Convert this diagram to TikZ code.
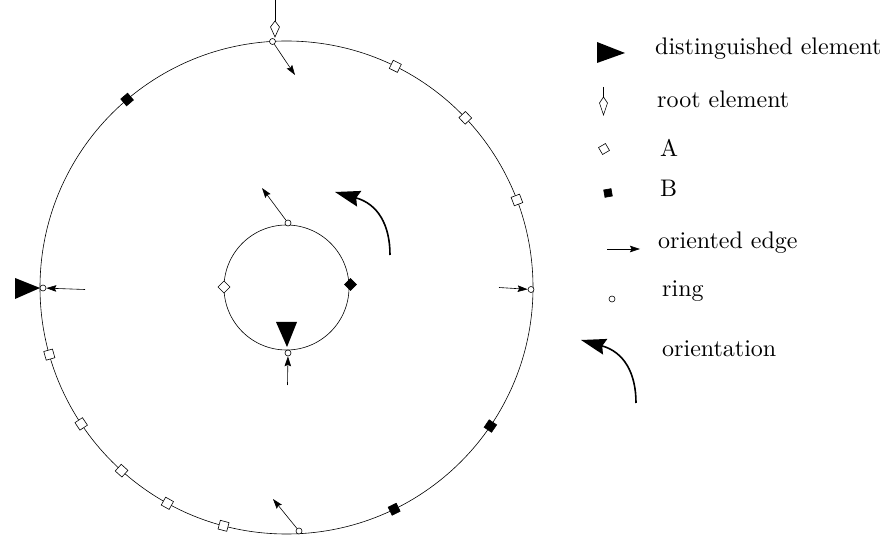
\documentclass[tikz,border=0pt]{standalone}
\usepackage{fontspec}
\newfontfamily\legfont{lmroman10-regular.otf}
\usetikzlibrary{arrows.meta}
\begin{document}
\begin{tikzpicture}[x=1pt,y=1pt,
 ln/.style={line width=0.6pt},
 ringnode/.style={circle,draw,fill=white,inner sep=0pt,minimum size=6pt,line width=0.6pt},
 sqA/.style={rectangle,draw,fill=white,inner sep=0pt,minimum size=9pt,line width=0.6pt},
 sqB/.style={rectangle,draw,fill=black,inner sep=0pt,minimum size=9pt,line width=0.6pt},
 oedge/.style={line width=0.6pt,-{Stealth[length=10pt,width=6.5pt,inset=1.5pt]}},
 orient/.style={line width=1.6pt,-{Stealth[length=25pt,width=16pt,inset=3pt]}},
 distel/.style={fill=black},
 rootel/.style={draw,fill=white,line width=0.6pt},
 lab/.style={anchor=base west,inner sep=0pt,font=\legfont\fontsize{24}{28}\selectfont}]
\useasboundingbox (0,0) rectangle (888,538);
\coordinate (O) at (286.5,250.5);
\draw[ln] (O) circle[radius=246.5];
\draw[ln] (O) circle[radius=62.5];
% squares on outer ring
\foreach \a [count=\i] in {63.8,43.5,20.8,195.8,213.6,228,241.1,255.2}
  \node[sqA,rotate=\a] (A\i) at ([shift={(\a:246.5)}]O) {};
\foreach \a [count=\i] in {130.3,295.9,325.8}
  \node[sqB,rotate=\a] (B\i) at ([shift={(\a:246.5)}]O) {};
% inner diamonds
\node[sqA,rotate=45,minimum size=8.5pt] (IA) at (224,251) {};
\node[sqB,rotate=45,minimum size=8.5pt] (IB) at (350.5,253.5) {};
% rings
\node[ringnode] (r1) at (272.5,496.5) {};
\node[ringnode] (r2) at (43,250) {};
\node[ringnode] (r3) at (531,248.5) {};
\node[ringnode] (r4) at (299,7) {};
\node[ringnode] (r5) at (288,315) {};
\node[ringnode] (r6) at (288,185) {};
% oriented edges
\coordinate (e1) at (295,463);
\coordinate (e2) at (85,248.5);
\coordinate (e3) at (499,250.5);
\coordinate (e4) at (273,39);
\coordinate (e5) at (262,350);
\coordinate (e6) at (287.5,153);
\draw[oedge] (r1) -- (e1);
\draw[oedge] (e2) -- (r2);
\draw[oedge] (e3) -- (r3);
\draw[oedge] (r4) -- (e4);
\draw[oedge] (r5) -- (e5);
\draw[oedge] (e6) -- (r6);
% distinguished elements
\fill[distel] (15,260) -- (40,250) -- (15,239) -- cycle;
\fill[distel] (276,216) -- (297,216) -- (287,191) -- cycle;
% root element
\draw[ln] (275,538) -- (275,517);
\draw[rootel] (275,517) -- (279.5,511) -- (275,501) -- (270.5,511) -- cycle;
% orientation
\coordinate (o1) at (390,283);
\coordinate (o2) at (335,346);
\draw[orient] (o1) .. controls (390,313) and (378,334) .. (o2);
% legend
\fill[distel] (597,496) -- (625,485) -- (597,475) -- cycle;
\node[lab] (t1) at (655,483) {distinguished element};
\draw[ln] (603.5,451) -- (603.5,441);
\draw[rootel] (603.5,441) -- (607.5,435) -- (603.5,423) -- (599.5,435) -- cycle;
\node[lab] (t2) at (657,430) {root element};
\node[sqA,rotate=30,minimum size=8pt] (LA) at (604,389) {};
\node[lab] (t3) at (660,381) {A};
\node[sqB,rotate=10,minimum size=7.5pt] (LB) at (608,345) {};
\node[lab] (t4) at (660,341) {B};
\coordinate (le1) at (607,289);
\coordinate (le2) at (640,289);
\draw[oedge] (le1) -- (le2);
\node[lab] (t5) at (658,289) {oriented edge};
\node[ringnode] (lr) at (612,239) {};
\node[lab] (t6) at (662,241) {ring};
\coordinate (lo1) at (636,135);
\coordinate (lo2) at (581,198);
\draw[orient] (lo1) .. controls (636,165) and (624,186) .. (lo2);
\node[lab] (t7) at (662,181) {orientation};
\end{tikzpicture}
\end{document}
